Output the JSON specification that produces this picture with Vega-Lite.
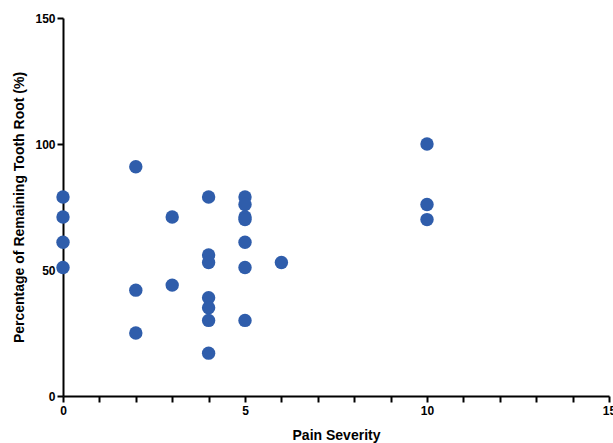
{
  "$schema": "https://vega.github.io/schema/vega-lite/v6.json",
  "width": 546,
  "height": 378,
  "autosize": {"type": "none"},
  "padding": {"left": 63, "top": 18, "right": 4, "bottom": 47},
  "background": "white",
  "config": {
    "view": {"stroke": null},
    "axis": {
      "domainColor": "black",
      "domainWidth": 2,
      "tickColor": "black",
      "tickWidth": 2,
      "tickSize": 6,
      "grid": false,
      "labelFont": "Liberation Sans",
      "labelFontWeight": "bold",
      "labelFontSize": 12,
      "labelColor": "black",
      "titleFont": "Liberation Sans",
      "titleFontWeight": "bold",
      "titleFontSize": 14,
      "titleColor": "black"
    }
  },
  "data": {
    "values": [
      {"pain": 0, "root": 79}, {"pain": 0, "root": 71}, {"pain": 0, "root": 61}, {"pain": 0, "root": 51},
      {"pain": 2, "root": 91}, {"pain": 2, "root": 42}, {"pain": 2, "root": 25},
      {"pain": 3, "root": 71}, {"pain": 3, "root": 44},
      {"pain": 4, "root": 79}, {"pain": 4, "root": 56}, {"pain": 4, "root": 53}, {"pain": 4, "root": 39},
      {"pain": 4, "root": 35}, {"pain": 4, "root": 30}, {"pain": 4, "root": 17},
      {"pain": 5, "root": 79}, {"pain": 5, "root": 76}, {"pain": 5, "root": 71}, {"pain": 5, "root": 70},
      {"pain": 5, "root": 61}, {"pain": 5, "root": 51}, {"pain": 5, "root": 30},
      {"pain": 6, "root": 53},
      {"pain": 10, "root": 100}, {"pain": 10, "root": 76}, {"pain": 10, "root": 70}
    ]
  },
  "mark": {"type": "circle", "size": 180, "opacity": 1, "color": "#2f5dab"},
  "encoding": {
    "x": {
      "field": "pain",
      "type": "quantitative",
      "scale": {"domain": [0, 15], "nice": false, "zero": false},
      "axis": {
        "title": "Pain Severity",
        "values": [0,1,2,3,4,5,6,7,8,9,10,11,12,13,14,15],
        "labelExpr": "datum.value % 5 === 0 ? datum.label : ''",
        "labelPadding": 3,
        "titlePadding": 12,
        "labelFlush": false,
        "labelOverlap": false
      }
    },
    "y": {
      "field": "root",
      "type": "quantitative",
      "scale": {"domain": [0, 150], "nice": false},
      "axis": {
        "title": "Percentage of Remaining Tooth Root (%)",
        "values": [0, 50, 100, 150],
        "labelPadding": 2,
        "titlePadding": 8,
        "labelFlush": false
      }
    }
  }
}
